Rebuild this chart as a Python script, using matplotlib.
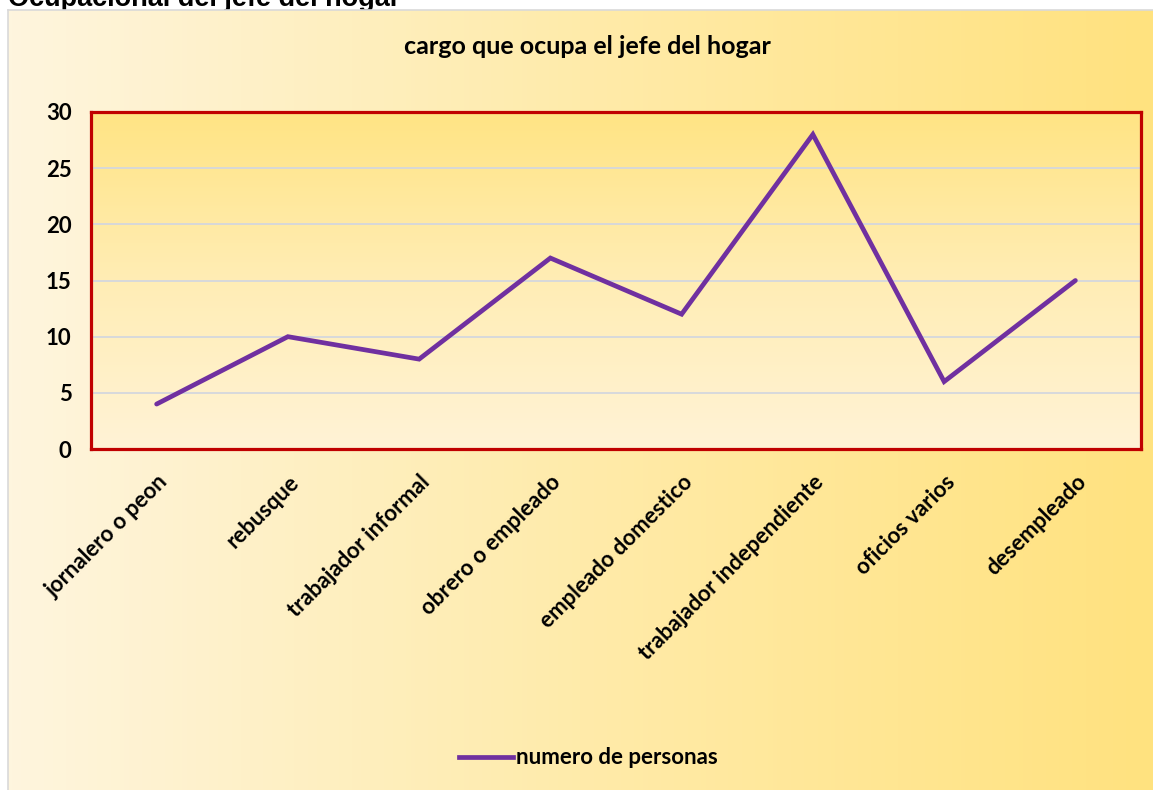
import numpy as np
import matplotlib
matplotlib.use("Agg")
import matplotlib.pyplot as plt
from matplotlib.colors import LinearSegmentedColormap
from matplotlib.lines import Line2D

categories = ["jornalero o peon", "rebusque", "trabajador informal", "obrero o empleado",
              "empleado domestico", "trabajador independiente", "oficios varios", "desempleado"]
values = [4, 10, 8, 17, 12, 28, 6, 15]
yticks = [0, 5, 10, 15, 20, 25, 30]
series_name = "numero de personas"
title = "cargo que ocupa el jefe del hogar"
top_text = "Ocupacional del jefe del hogar"

W, H = 1153, 790
fig = plt.figure(figsize=(W / 100, H / 100), dpi=100)
fig.patch.set_facecolor("white")

FONT = ["Lato", "DejaVu Sans"]
FS = 16

# clipped heading at the very top
fig.text(8 / W, 1 - 6 / H, top_text, fontsize=19.5, fontweight="bold",
         family=["Liberation Sans", "DejaVu Sans"], ha="left", va="baseline", zorder=-1)

# chart area background with horizontal gradient
bg = fig.add_axes([8 / W, 0, 1 - 8 / W, (H - 10) / H], zorder=0)
hcmap = LinearSegmentedColormap.from_list("h", ["#FEF5DE", "#FFEBAA", "#FFE27F"])
grad = np.linspace(0, 1, 256).reshape(1, -1)
bg.imshow(grad, aspect="auto", cmap=hcmap, extent=[0, 1, 0, 1])
bg.set_xlim(0, 1)
bg.set_ylim(0, 1)
bg.set_xticks([])
bg.set_yticks([])
for s in bg.spines.values():
    s.set_color("#D9D9D9")
    s.set_linewidth(1.2)
bg.spines["right"].set_visible(False)
bg.spines["bottom"].set_visible(False)

# plot area
left, right, top, bottom = 91, 1141, 112, 449
ax = fig.add_axes([left / W, (H - bottom) / H, (right - left) / W, (bottom - top) / H], zorder=1)
ax.set_facecolor("none")
vcmap = LinearSegmentedColormap.from_list("v", ["#FFF3D6", "#FFEDB5", "#FFE484"])
vgrad = np.linspace(0, 1, 256).reshape(-1, 1)
ax.imshow(vgrad, aspect="auto", cmap=vcmap, origin="lower", extent=[0, 1, 0, 1],
          transform=ax.transAxes, zorder=0)

x = np.arange(len(categories))
ax.plot(x, values, color="#7030A0", linewidth=3.4, solid_capstyle="round",
        solid_joinstyle="miter", zorder=3, label=series_name)
ax.set_xlim(-0.5, len(categories) - 0.5)
ax.set_ylim(0, 30)
ax.set_yticks(yticks)
ax.set_yticklabels([str(v) for v in yticks], fontsize=FS, fontweight="bold", family=FONT)
ax.yaxis.grid(True, color="#D4D7DD", linewidth=1.3, zorder=1)
ax.set_axisbelow(True)
ax.tick_params(axis="y", length=0, pad=14)
ax.tick_params(axis="x", length=0, pad=16)
ax.set_xticks(x)
ax.set_xticklabels(categories, rotation=45, ha="right", va="top", rotation_mode="anchor",
                   fontsize=FS, fontweight="bold", family=FONT)
for s in ax.spines.values():
    s.set_color("#C00000")
    s.set_linewidth(2.3)

fig.text(587 / W, 1 - 47 / H, title, fontsize=18, fontweight="bold", family=FONT,
         ha="center", va="center")

handle = Line2D([], [], color="#7030A0", linewidth=3.4)
fig.legend([handle], [series_name], loc="center", bbox_to_anchor=(588 / W, 1 - 758 / H),
           frameon=False, prop={"family": FONT, "weight": "bold", "size": FS},
           handlelength=2.45, handletextpad=0.12)

fig.savefig("out.png", dpi=100)
